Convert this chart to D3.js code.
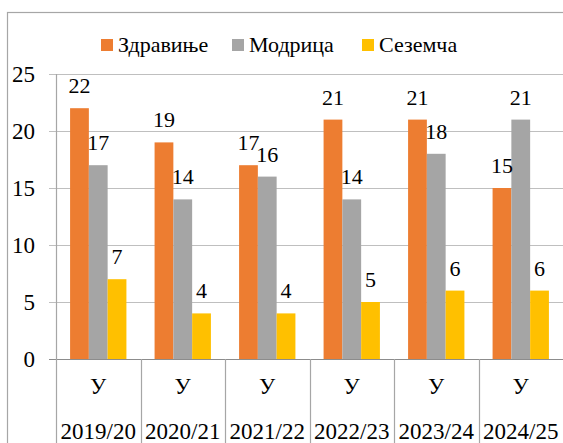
<!DOCTYPE html>
<html>
<head>
<meta charset="utf-8">
<script src="https://cdn.jsdelivr.net/npm/d3@7"></script>
</head>
<body style="margin:0">
<svg id="enrol" width="563" height="443"></svg>
<script>
// School years and the sub-label shown under each one
const years = ["2019/20", "2020/21", "2021/22", "2022/23", "2023/24", "2024/25"];
const subLabels = ["У", "У", "У", "У", "У", "У"];
const seriesNames = ["Здравиње", "Модрица", "Сеземча"];
const zdravinje = [22, 19, 17, 21, 21, 15];
const modrica = [17, 14, 16, 14, 18, 21];
const sezemca = [7, 4, 4, 5, 6, 6];
const yTicks = [0, 5, 10, 15, 20, 25];
const colors = ["#ED7D31", "#A5A5A5", "#FFC000"];

const seriesValues = [zdravinje, modrica, sezemca];
const svg = d3.select("#enrol");
const FONT = '"Liberation Serif"';

// Apply the serif face and size to a text selection
function serif(sel, size) {
  return sel.style("font-family", FONT, "important").style("font-size", size + "px", "important");
}

const plot = { left: 56, right: 563, top: 74, bottom: 359 };

const x0 = d3.scaleBand().domain(years).range([plot.left, plot.right]).paddingInner(0).paddingOuter(0);
const x1 = d3.scaleBand().domain(seriesNames).range([0, x0.bandwidth()]).paddingOuter(0.75).paddingInner(0);
const y = d3.scaleLinear().domain([0, 25]).range([plot.bottom, plot.top]);

// Outer chart frame
svg.append("rect")
  .attr("x", 7.5).attr("y", 12.5)
  .attr("width", 600).attr("height", 500)
  .attr("fill", "none").attr("stroke", "#a6a6a6").attr("stroke-width", 1.2);

// Horizontal gridlines with left tick stubs
svg.append("g")
  .selectAll("line.grid")
  .data(yTicks)
  .join("line")
  .attr("x1", plot.left - 7).attr("x2", plot.right)
  .attr("y1", d => Math.round(y(d)) + 0.5).attr("y2", d => Math.round(y(d)) + 0.5)
  .attr("stroke", d => d === 0 ? "#8c8c8c" : "#bfbfbf")
  .attr("stroke-width", 1.2);

const yAxis = d3.axisLeft(y).tickValues(yTicks).tickSize(0).tickPadding(0).tickFormat(d3.format("d"));
const gy = svg.append("g").attr("transform", `translate(${plot.left - 21},0)`).call(yAxis);
gy.attr("font-family", null).attr("font-size", null);
gy.select(".domain").remove();
serif(gy.selectAll("text"), 23).attr("fill", "#000");

// Vertical axis line, continuing down through the category rows
svg.append("line")
  .attr("x1", plot.left + 0.5).attr("x2", plot.left + 0.5)
  .attr("y1", plot.top).attr("y2", 443)
  .attr("stroke", "#a6a6a6").attr("stroke-width", 1.2);

// Category separators below the axis
svg.append("g")
  .selectAll("line")
  .data(years.slice(1))
  .join("line")
  .attr("x1", d => Math.round(x0(d)) + 0.5).attr("x2", d => Math.round(x0(d)) + 0.5)
  .attr("y1", plot.bottom).attr("y2", 443)
  .attr("stroke", "#a6a6a6").attr("stroke-width", 1.2);

// Bars
const groups = svg.append("g")
  .selectAll("g")
  .data(years)
  .join("g")
  .attr("transform", d => `translate(${x0(d)},0)`);

groups.selectAll("rect")
  .data((d, i) => seriesNames.map((s, k) => ({ s, v: seriesValues[k][i], k })))
  .join("rect")
  .attr("x", d => x1(d.s))
  .attr("width", x1.bandwidth())
  .attr("y", d => y(d.v))
  .attr("height", d => y(0) - y(d.v))
  .attr("fill", d => colors[d.k]);

// Value labels above each bar
serif(groups.selectAll("text.val")
  .data((d, i) => seriesNames.map((s, k) => ({ s, v: seriesValues[k][i], k })))
  .join("text")
  .attr("class", "val")
  .attr("x", d => x1(d.s) + x1.bandwidth() / 2)
  .attr("y", d => y(d.v) - 15)
  .attr("text-anchor", "middle"), 22)
  .text(d => d.v);

// Two-level category labels
serif(svg.append("g")
  .selectAll("text")
  .data(years)
  .join("text")
  .attr("x", d => x0(d) + x0.bandwidth() / 2)
  .attr("y", 394)
  .attr("text-anchor", "middle"), 23)
  .text((d, i) => subLabels[i]);

serif(svg.append("g")
  .selectAll("text")
  .data(years)
  .join("text")
  .attr("x", d => x0(d) + x0.bandwidth() / 2)
  .attr("y", 439)
  .attr("text-anchor", "middle"), 23)
  .text(d => d);

// Legend
const legendX = [101, 232, 362];
const legend = svg.append("g")
  .selectAll("g")
  .data(seriesNames)
  .join("g")
  .attr("transform", (d, i) => `translate(${legendX[i]},0)`);
legend.append("rect")
  .attr("x", 0).attr("y", 39).attr("width", 12).attr("height", 12)
  .attr("fill", (d, i) => colors[i]);
serif(legend.append("text")
  .attr("x", 17).attr("y", 52), 22)
  .text(d => d);
</script>
</body>
</html>
